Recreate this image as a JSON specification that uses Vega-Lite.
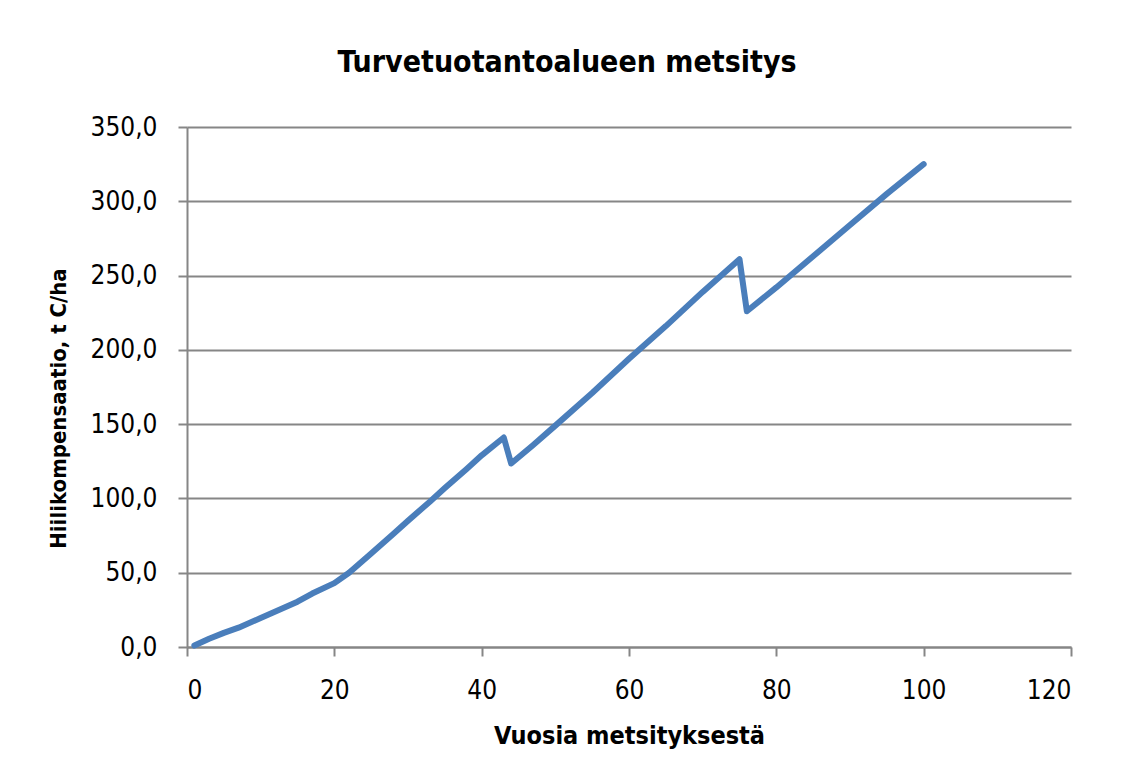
{
  "$schema": "https://vega.github.io/schema/vega-lite/v6.json",
  "width": 884,
  "height": 520,
  "autosize": {"type": "none"},
  "padding": {"left": 187, "top": 127, "right": 54, "bottom": 111},
  "background": "white",
  "config": {
    "locale": {"number": {"decimal": ",", "thousands": " ", "grouping": [3], "currency": ["", " €"]}},
    "view": {"stroke": null},
    "font": "Liberation Sans Narrow, DejaVu Sans Condensed, sans-serif"
  },
  "title": {
    "text": "Turvetuotantoalueen metsitys",
    "fontSize": 30,
    "fontWeight": "bold",
    "color": "black",
    "anchor": "middle",
    "dx": -62,
    "offset": 36
  },
  "data": {
    "values": [
      {"vuosi": 1, "c": 1},
      {"vuosi": 3, "c": 5.5},
      {"vuosi": 5, "c": 9.5},
      {"vuosi": 7, "c": 13},
      {"vuosi": 10, "c": 19.5},
      {"vuosi": 13, "c": 26},
      {"vuosi": 15, "c": 30.5},
      {"vuosi": 17, "c": 36},
      {"vuosi": 20, "c": 43},
      {"vuosi": 22, "c": 50},
      {"vuosi": 25, "c": 63},
      {"vuosi": 28, "c": 76},
      {"vuosi": 30, "c": 85},
      {"vuosi": 33, "c": 98},
      {"vuosi": 35, "c": 107},
      {"vuosi": 38, "c": 120},
      {"vuosi": 40, "c": 129},
      {"vuosi": 43, "c": 141},
      {"vuosi": 44, "c": 123.5},
      {"vuosi": 47, "c": 136},
      {"vuosi": 50, "c": 149},
      {"vuosi": 55, "c": 171},
      {"vuosi": 60, "c": 194},
      {"vuosi": 65, "c": 216},
      {"vuosi": 70, "c": 239},
      {"vuosi": 75, "c": 261},
      {"vuosi": 76, "c": 226},
      {"vuosi": 80, "c": 242},
      {"vuosi": 85, "c": 263},
      {"vuosi": 90, "c": 284},
      {"vuosi": 95, "c": 305},
      {"vuosi": 100, "c": 325}
    ]
  },
  "mark": {"type": "line", "color": "#4a7ebb", "strokeWidth": 6, "strokeCap": "round", "strokeJoin": "round"},
  "encoding": {
    "x": {
      "field": "vuosi",
      "type": "quantitative",
      "scale": {"domain": [0, 120], "nice": false},
      "axis": {
        "values": [0, 20, 40, 60, 80, 100, 120],
        "title": "Vuosia metsityksestä",
        "titleFontSize": 25,
        "titleFontWeight": "bold",
        "titleColor": "black",
        "titlePadding": 20,
        "labelFontSize": 26,
        "labelColor": "black",
        "labelPadding": 21,
        "grid": false,
        "domainColor": "#868686",
        "domainWidth": 2,
        "tickColor": "#868686",
        "tickWidth": 2,
        "tickSize": 9
      }
    },
    "y": {
      "field": "c",
      "type": "quantitative",
      "scale": {"domain": [0, 350], "nice": false},
      "axis": {
        "values": [0, 50, 100, 150, 200, 250, 300, 350],
        "format": ".1f",
        "title": "Hiilikompensaatio, t C/ha",
        "titleFontSize": 22,
        "titleFontWeight": "bold",
        "titleColor": "black",
        "titlePadding": 20,
        "titleY": 281,
        "labelFontSize": 26,
        "labelColor": "black",
        "labelPadding": 21,
        "grid": true,
        "gridColor": "#868686",
        "gridWidth": 2,
        "domainColor": "#868686",
        "domainWidth": 2,
        "tickColor": "#868686",
        "tickWidth": 2,
        "tickSize": 9
      }
    }
  }
}
